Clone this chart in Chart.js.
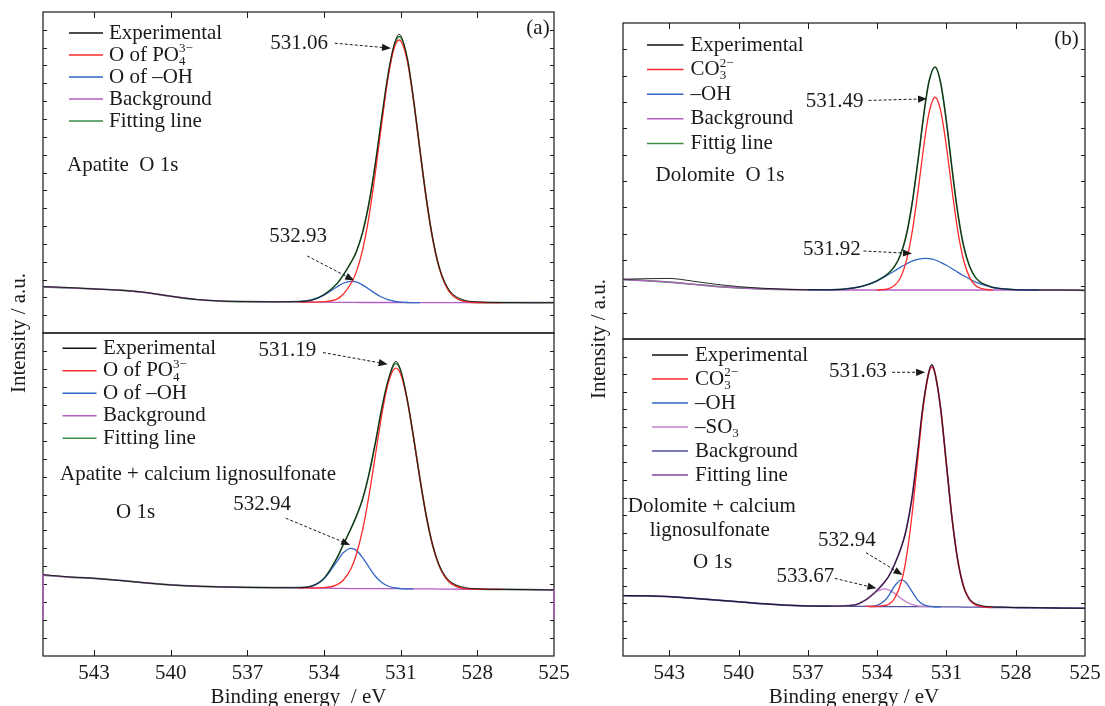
<!DOCTYPE html>
<html>
<head>
<meta charset="utf-8">
<title>O 1s XPS spectra</title>
<script src="https://cdn.jsdelivr.net/npm/chart.js@4.4.1/dist/chart.umd.min.js"></script>
<style>
  html, body { margin: 0; padding: 0; background: #fff; }
  #page { position: relative; width: 1105px; height: 706px; overflow: hidden; }
  #page canvas { position: absolute; left: 0; top: 0; }
</style>
</head>
<body>
<div id="page">
  <canvas id="apatite" width="1105" height="706"></canvas>
  <canvas id="apatiteCls" width="1105" height="706"></canvas>
  <canvas id="dolomite" width="1105" height="706"></canvas>
  <canvas id="dolomiteCls" width="1105" height="706"></canvas>
</div>
<script>
// binding energy ticks, shared by all four subplots
const xTicks = [543, 540, 537, 534, 531, 528, 525];

// ---- apatite, O 1s ----
const apE = [545, 544, 543, 542, 541, 540, 539, 538, 537, 536, 535, 534.5, 534, 533.5, 533.25, 532.93, 532.75, 532.5, 532.25, 532,
  531.75, 531.5, 531.25, 531.06, 530.75, 530.5, 530.25, 530, 529.75, 529.5, 529.25, 529, 528.5, 528, 527, 526, 525];
const apExp = [2.60, 2.55, 2.47, 2.40, 2.28, 2.06, 1.88, 1.79, 1.76, 1.75, 1.76, 1.84, 2.15, 2.76, 3.24, 4.00, 4.51, 5.60, 7.22, 9.42,
  11.98, 14.43, 16.20, 16.75, 15.45, 13.10, 10.30, 7.56, 5.31, 3.72, 2.78, 2.24, 1.84, 1.75, 1.71, 1.70, 1.70];
const apPO4 = [null, null, null, null, null, null, null, null, null, null, 1.74, 1.73, 1.76, 1.90, 2.17, 2.82, 3.37, 4.61, 6.46, 8.91,
  11.67, 14.27, 16.00, 16.43, 15.31, 13.08, 10.29, 7.55, 5.30, 3.69, 2.70, 2.15, 1.77, 1.71, 1.70, null, null];
const apOH = [null, null, null, null, null, null, null, null, null, null, 1.76, 1.84, 2.12, 2.58, 2.79, 2.90, 2.86, 2.70, 2.47, 2.22,
  2.02, 1.87, 1.78, 1.74, 1.71, 1.70, 1.70, null, null, null, null, null, null, null, null, null, null];
const apBg = [2.59, 2.53, 2.47, 2.40, 2.27, 2.06, 1.88, 1.79, 1.76, 1.75, 1.74, 1.73, 1.73, 1.72, 1.72, 1.72, 1.72, 1.71, 1.71, 1.71,
  1.71, 1.71, 1.70, 1.70, 1.70, 1.70, 1.70, 1.70, 1.70, 1.70, 1.70, 1.70, 1.70, 1.70, 1.70, 1.70, 1.70];
const apFit = [2.59, 2.53, 2.47, 2.40, 2.27, 2.06, 1.88, 1.79, 1.76, 1.75, 1.76, 1.84, 2.15, 2.76, 3.24, 4.00, 4.51, 5.60, 7.22, 9.42,
  11.98, 14.43, 16.15, 16.62, 15.45, 13.10, 10.30, 7.56, 5.31, 3.70, 2.71, 2.16, 1.77, 1.71, 1.70, 1.70, 1.70];

// ---- apatite + calcium lignosulfonate, O 1s ----
const aplE = [545, 544, 543, 542, 541, 540, 539, 538, 537, 536, 535, 534.5, 534, 533.5, 533.25, 532.94, 532.75, 532.5, 532.25, 532,
  531.75, 531.5, 531.19, 531, 530.75, 530.5, 530.25, 530, 529.75, 529.5, 529.25, 529, 528.5, 528, 527, 526, 525];
const aplExp = [4.53, 4.41, 4.33, 4.21, 4.08, 3.96, 3.89, 3.85, 3.82, 3.81, 3.81, 3.89, 4.33, 5.45, 6.20, 7.12, 7.74, 8.71, 10.08, 11.82,
  13.73, 15.30, 16.42, 15.90, 14.33, 12.21, 9.90, 7.81, 6.19, 5.09, 4.45, 4.09, 3.82, 3.74, 3.71, 3.70, 3.68];
const aplPO4 = [null, null, null, null, null, null, null, null, null, null, 3.80, 3.80, 3.81, 3.96, 4.22, 4.88, 5.60, 6.97, 8.87, 11.11,
  13.37, 15.15, 16.04, 15.70, 14.31, 12.21, 9.90, 7.81, 6.17, 5.05, 4.38, 4.02, 3.76, 3.72, 3.71, null, null];
const aplOH = [null, null, null, null, null, null, null, null, null, null, 3.81, 3.88, 4.30, 5.26, 5.75, 6.00, 5.90, 5.50, 4.97, 4.46,
  4.11, 3.90, 3.79, 3.76, 3.74, 3.74, null, null, null, null, null, null, null, null, null, null, null];
const aplBg = [4.51, 4.40, 4.33, 4.21, 4.08, 3.96, 3.89, 3.85, 3.82, 3.81, 3.80, 3.79, 3.78, 3.77, 3.77, 3.76, 3.76, 3.76, 3.76, 3.75,
  3.75, 3.75, 3.75, 3.75, 3.74, 3.74, 3.74, 3.74, 3.74, 3.73, 3.73, 3.73, 3.72, 3.72, 3.71, 3.70, 3.68];
const aplBgDrop = [2.0, 2.0]; // background end points at 545 and 525 eV
const aplFit = [4.51, 4.40, 4.33, 4.21, 4.08, 3.96, 3.89, 3.85, 3.82, 3.81, 3.81, 3.89, 4.33, 5.45, 6.20, 7.12, 7.74, 8.71, 10.08, 11.82,
  13.73, 15.30, 16.31, 15.90, 14.33, 12.21, 9.90, 7.81, 6.17, 5.05, 4.38, 4.02, 3.76, 3.72, 3.71, 3.70, 3.68];

// ---- dolomite, O 1s ----
const doE = [545, 544, 543, 542, 541, 540, 539, 538, 537, 536, 535, 534.5, 534, 533.5, 533.25, 533, 532.75, 532.5, 532.25, 531.92,
  531.75, 531.49, 531.25, 531, 530.75, 530.5, 530.25, 530, 529.75, 529.5, 529.25, 529, 528.5, 528, 527, 526, 525];
const doExp = [2.27, 2.29, 2.30, 2.20, 2.08, 1.99, 1.93, 1.89, 1.87, 1.87, 1.94, 2.04, 2.21, 2.50, 2.75, 3.17, 3.89, 5.06, 6.64, 8.90,
  9.79, 10.34, 9.73, 8.26, 6.42, 4.74, 3.52, 2.77, 2.35, 2.14, 2.04, 1.96, 1.90, 1.87, 1.86, 1.86, 1.85];
const doCO3 = [null, null, null, null, null, null, null, null, null, null, null, null, 1.86, 1.91, 2.03, 2.31, 2.91, 3.97, 5.48, 7.70,
  8.60, 9.18, 8.68, 7.32, 5.61, 4.07, 2.98, 2.35, 2.04, 1.92, 1.88, 1.86, null, null, null, null, null];
const doOH = [null, null, null, null, null, null, null, null, 1.87, 1.87, 1.94, 2.04, 2.21, 2.45, 2.58, 2.72, 2.84, 2.95, 3.02, 3.06,
  3.05, 3.00, 2.91, 2.80, 2.67, 2.53, 2.40, 2.28, 2.17, 2.08, 2.02, 1.96, 1.90, 1.87, 1.86, null, null];
const doBg = [2.26, 2.22, 2.16, 2.08, 2.00, 1.94, 1.90, 1.88, 1.87, 1.86, 1.86, 1.86, 1.86, 1.86, 1.86, 1.86, 1.86, 1.86, 1.86, 1.86,
  1.86, 1.86, 1.86, 1.86, 1.86, 1.86, 1.86, 1.86, 1.86, 1.86, 1.86, 1.86, 1.86, 1.86, 1.86, 1.86, 1.85];
const doFit = [2.26, 2.22, 2.16, 2.08, 2.00, 1.94, 1.90, 1.88, 1.87, 1.87, 1.94, 2.04, 2.21, 2.50, 2.75, 3.17, 3.89, 5.06, 6.64, 8.90,
  9.79, 10.32, 9.73, 8.26, 6.42, 4.74, 3.52, 2.77, 2.35, 2.14, 2.04, 1.96, 1.90, 1.87, 1.86, 1.86, 1.85];

// ---- dolomite + calcium lignosulfonate, O 1s ----
const dolE = [545, 544, 543, 542, 541, 540, 539, 538, 537, 536, 535, 534.5, 534.25, 534, 533.67, 533.5, 533.25, 532.94, 532.75, 532.5,
  532.25, 532, 531.75, 531.63, 531.5, 531.25, 531, 530.75, 530.5, 530.25, 530, 529.75, 529.5, 529.25, 529, 528.5, 528, 527, 526, 525];
const dolExp = [3.44, 3.42, 3.37, 3.28, 3.18, 3.08, 2.97, 2.89, 2.84, 2.83, 2.89, 3.18, 3.43, 3.73, 4.21, 4.52, 5.18, 6.23, 7.11, 8.89,
  11.48, 14.31, 16.17, 16.56, 16.09, 14.06, 10.90, 7.75, 5.37, 3.92, 3.23, 2.98, 2.87, 2.81, 2.79, 2.77, 2.75, 2.74, 2.72, 2.71];
const dolCO3 = [null, null, null, null, null, null, null, null, null, null, null, 2.82, 2.81, 2.82, 2.87, 2.94, 3.25, 4.26, 5.46, 7.88,
  11.04, 14.17, 16.14, 16.39, 16.09, 14.06, 10.90, 7.75, 5.37, 3.92, 3.21, 2.92, 2.82, 2.77, 2.76, null, null, null, null, null];
const dolOH = [null, null, null, null, null, null, null, null, null, null, null, 2.82, 2.82, 2.87, 3.15, 3.42, 3.96, 4.32, 4.17, 3.68,
  3.19, 2.92, 2.83, 2.81, 2.79, 2.79, null, null, null, null, null, null, null, null, null, null, null, null, null, null];
const dolSO3 = [null, null, null, null, null, null, null, null, null, 2.83, 2.89, 3.18, 3.42, 3.66, 3.81, 3.76, 3.57, 3.25, 3.08, 2.93,
  2.85, 2.82, 2.80, 2.80, null, null, null, null, null, null, null, null, null, null, null, null, null, null, null, null];
const dolBg = [3.42, 3.41, 3.37, 3.28, 3.18, 3.08, 2.97, 2.89, 2.84, 2.83, 2.82, 2.82, 2.81, 2.81, 2.81, 2.80, 2.80, 2.80, 2.80, 2.80,
  2.80, 2.80, 2.80, 2.80, 2.79, 2.79, 2.79, 2.79, 2.79, 2.78, 2.78, 2.78, 2.78, 2.76, 2.76, 2.76, 2.75, 2.74, 2.72, 2.71];
const dolFit = [3.42, 3.41, 3.37, 3.28, 3.18, 3.08, 2.97, 2.89, 2.84, 2.83, 2.89, 3.18, 3.43, 3.73, 4.21, 4.52, 5.18, 6.23, 7.11, 8.89,
  11.48, 14.31, 16.17, 16.50, 16.09, 14.06, 10.90, 7.75, 5.37, 3.92, 3.21, 2.92, 2.82, 2.77, 2.76, 2.76, 2.75, 2.74, 2.72, 2.71];

const FONT = '"Liberation Serif", "Times New Roman", serif';
const INK = '#1a1a1a';
const COLORS = {
  exp: '#111111',
  red: '#ff2a2a',
  blue: '#3166c2',
  bgA: '#b55cc6',
  green: '#3a8e45',
  so3: '#c27fcc',
  bgB: '#4f4fa3',
  fitB: '#8445a0'
};

// text made of plain strings and {sub, sup} pieces (stacked sub/superscripts)
function drawRich(ctx, runs, x, y, size, align) {
  const small = Math.round(size * 0.6);
  const widths = runs.map(r => {
    if (typeof r === 'string') { ctx.font = `${size}px ${FONT}`; return ctx.measureText(r).width; }
    ctx.font = `${small}px ${FONT}`;
    return Math.max(r.sub ? ctx.measureText(r.sub).width : 0, r.sup ? ctx.measureText(r.sup).width : 0);
  });
  let cx = align === 'right' ? x - widths.reduce((s, w) => s + w, 0) : x;
  ctx.textBaseline = 'middle';
  ctx.textAlign = 'left';
  runs.forEach((r, i) => {
    if (typeof r === 'string') {
      ctx.font = `${size}px ${FONT}`;
      ctx.fillText(r, cx, y);
    } else {
      ctx.font = `${small}px ${FONT}`;
      if (r.sub) ctx.fillText(r.sub, cx, y + size * 0.3);
      if (r.sup) ctx.fillText(r.sup, cx, y - size * 0.3);
    }
    cx += widths[i];
  });
}

function dashedArrow(ctx, x0, y0, x1, y1) {
  const ang = Math.atan2(y1 - y0, x1 - x0);
  const head = 9, half = 3.6;
  const bx = x1 - head * Math.cos(ang), by = y1 - head * Math.sin(ang);
  ctx.strokeStyle = INK;
  ctx.fillStyle = INK;
  ctx.lineWidth = 1;
  ctx.setLineDash([3, 2]);
  ctx.beginPath();
  ctx.moveTo(x0, y0);
  ctx.lineTo(bx, by);
  ctx.stroke();
  ctx.setLineDash([]);
  ctx.beginPath();
  ctx.moveTo(x1, y1);
  ctx.lineTo(bx + half * Math.sin(ang), by - half * Math.cos(ang));
  ctx.lineTo(bx - half * Math.sin(ang), by + half * Math.cos(ang));
  ctx.closePath();
  ctx.fill();
}

// frame, inward ticks, legend, labels and axis titles for one subplot
const subplotDecor = {
  id: 'subplotDecor',
  beforeDatasetsDraw(chart, args, o) {
    const { ctx, chartArea: a, scales: { x, y } } = chart;
    ctx.save();
    ctx.strokeStyle = INK;
    ctx.lineWidth = 1.2;
    ctx.strokeRect(a.left, a.top, a.right - a.left, a.bottom - a.top);
    ctx.lineWidth = 1;
    ctx.beginPath();
    y.ticks.forEach(t => {
      if (t.value <= y.min || t.value >= y.max) return;
      const py = Math.round(y.getPixelForValue(t.value)) + 0.5;
      ctx.moveTo(a.left, py); ctx.lineTo(a.left + 4, py);
      ctx.moveTo(a.right, py); ctx.lineTo(a.right - 4, py);
    });
    xTicks.forEach(v => {
      const px = Math.round(x.getPixelForValue(v)) + 0.5;
      if (px <= a.left + 1 || px >= a.right - 1) return;
      if (o.xAxis) { ctx.moveTo(px, a.bottom); ctx.lineTo(px, a.bottom - 6); }
      else { ctx.moveTo(px, a.top); ctx.lineTo(px, a.top + 6); }
    });
    ctx.stroke();
    ctx.restore();
  },
  afterDatasetsDraw(chart, args, o) {
    const { ctx, chartArea: a, scales: { x, y } } = chart;
    ctx.save();
    ctx.fillStyle = INK;

    const lg = o.legend;
    lg.items.forEach((it, i) => {
      const ry = lg.y + i * lg.dy;
      ctx.strokeStyle = it.color;
      ctx.lineWidth = 1.5;
      ctx.beginPath();
      ctx.moveTo(lg.x, ry);
      ctx.lineTo(lg.x + lg.len, ry);
      ctx.stroke();
      ctx.fillStyle = INK;
      drawRich(ctx, it.runs, lg.x + lg.len + lg.gap, ry, 21);
    });

    (o.notes || []).forEach(n => drawRich(ctx, [n.text], n.x, n.y, 21));
    if (o.tag) {
      ctx.font = `21px ${FONT}`;
      ctx.textAlign = 'center';
      ctx.fillText(o.tag.text, o.tag.x, o.tag.y);
    }

    (o.peaks || []).forEach(p => {
      ctx.fillStyle = INK;
      drawRich(ctx, [p.text], x.getPixelForValue(p.anchor[0]), y.getPixelForValue(p.anchor[1]), 21, 'right');
      dashedArrow(ctx, x.getPixelForValue(p.from[0]), y.getPixelForValue(p.from[1]),
        x.getPixelForValue(p.to[0]), y.getPixelForValue(p.to[1]));
    });

    if (o.xAxis) {
      ctx.fillStyle = INK;
      ctx.font = `21px ${FONT}`;
      ctx.textAlign = 'center';
      ctx.textBaseline = 'middle';
      xTicks.forEach(v => ctx.fillText(String(v), x.getPixelForValue(v), a.bottom + 17));
      ctx.fillText(o.xAxis.title, (a.left + a.right) / 2, a.bottom + 41);
      ctx.save();
      ctx.translate(o.xAxis.yTitleX, a.top);
      ctx.rotate(-Math.PI / 2);
      ctx.fillText('Intensity / a.u.', 0, 0);
      ctx.restore();
    }
    ctx.restore();
  }
};

function subplot(canvasId, cfg) {
  const datasets = cfg.series.map(s => ({
    label: s.name,
    data: (s.energy || cfg.energy).map((e, i) => ({ x: e, y: s.values[i] })),
    borderColor: s.color,
    borderWidth: s.width || 1.3,
    pointRadius: 0,
    fill: false,
    spanGaps: false,
    tension: 0,
    cubicInterpolationMode: s.straight ? 'default' : 'monotone',
    clip: 3
  }));
  return new Chart(document.getElementById(canvasId), {
    type: 'line',
    data: { datasets },
    options: {
      responsive: false,
      animation: false,
      events: [],
      layout: { padding: cfg.padding },
      plugins: {
        legend: { display: false },
        tooltip: { enabled: false },
        subplotDecor: cfg.decor
      },
      scales: {
        x: { type: 'linear', reverse: true, min: 525, max: 545, display: false },
        y: { type: 'linear', min: 0, max: cfg.yMax, display: false, ticks: { stepSize: 1 } }
      }
    },
    plugins: [subplotDecor]
  });
}

const PO4 = ['O of PO', { sub: '4', sup: '3\u2212' }];
const CO3 = ['CO', { sub: '3', sup: '2\u2212' }];

subplot('apatite', {
  energy: apE,
  yMax: 18,
  padding: { left: 43, top: 12, right: 551, bottom: 373 },
  series: [
    { name: 'Experimental', values: apExp, color: COLORS.exp, width: 0.9 },
    { name: 'O of PO4', values: apPO4, color: COLORS.red },
    { name: 'O of -OH', values: apOH, color: COLORS.blue },
    { name: 'Background', values: apBg, color: COLORS.bgA, straight: true },
    { name: 'Fitting line', values: apFit, color: COLORS.green, width: 1.7 }
  ],
  decor: {
    legend: {
      x: 69, y: 33, dy: 22, len: 34, gap: 6,
      items: [
        { runs: ['Experimental'], color: COLORS.exp },
        { runs: PO4, color: COLORS.red },
        { runs: ['O of \u2013OH'], color: COLORS.blue },
        { runs: ['Background'], color: COLORS.bgA },
        { runs: ['Fitting line'], color: COLORS.green }
      ]
    },
    notes: [{ text: 'Apatite  O 1s', x: 67, y: 165 }],
    tag: { text: '(a)', x: 538, y: 28 },
    peaks: [
      { text: '531.06', anchor: [533.85, 16.25], from: [533.58, 16.25], to: [531.38, 15.97] },
      { text: '532.93', anchor: [533.88, 5.40], from: [534.66, 4.32], to: [532.82, 2.95] }
    ]
  }
});

subplot('apatiteCls', {
  energy: aplE,
  yMax: 18,
  padding: { left: 43, top: 333, right: 551, bottom: 50 },
  series: [
    { name: 'Experimental', values: aplExp, color: COLORS.exp, width: 0.9 },
    { name: 'O of PO4', values: aplPO4, color: COLORS.red },
    { name: 'O of -OH', values: aplOH, color: COLORS.blue },
    {
      name: 'Background', color: COLORS.bgA, straight: true,
      energy: [aplE[0], ...aplE, aplE[aplE.length - 1]],
      values: [aplBgDrop[0], ...aplBg, aplBgDrop[1]]
    },
    { name: 'Fitting line', values: aplFit, color: COLORS.green, width: 1.7 }
  ],
  decor: {
    legend: {
      x: 62.5, y: 348.3, dy: 22.5, len: 34, gap: 6.5,
      items: [
        { runs: ['Experimental'], color: COLORS.exp },
        { runs: PO4, color: COLORS.red },
        { runs: ['O of \u2013OH'], color: COLORS.blue },
        { runs: ['Background'], color: COLORS.bgA },
        { runs: ['Fitting line'], color: COLORS.green }
      ]
    },
    notes: [
      { text: 'Apatite + calcium lignosulfonate', x: 60, y: 474 },
      { text: 'O 1s', x: 116, y: 512 }
    ],
    peaks: [
      { text: '531.19', anchor: [534.31, 17.02], from: [534.04, 16.91], to: [531.51, 16.26] },
      { text: '532.94', anchor: [535.29, 8.42], from: [535.50, 7.68], to: [532.98, 6.19] }
    ],
    xAxis: { title: 'Binding energy  / eV', yTitleX: 19 }
  }
});

subplot('dolomite', {
  energy: doE,
  yMax: 12,
  padding: { left: 623, top: 23, right: 20, bottom: 367 },
  series: [
    { name: 'Experimental', values: doExp, color: COLORS.exp, width: 0.9 },
    { name: 'CO3', values: doCO3, color: COLORS.red },
    { name: '-OH', values: doOH, color: COLORS.blue },
    { name: 'Background', values: doBg, color: COLORS.bgA, straight: true },
    { name: 'Fittig line', values: doFit, color: COLORS.green, width: 1.7 }
  ],
  decor: {
    legend: {
      x: 647, y: 45, dy: 24.6, len: 36.5, gap: 7,
      items: [
        { runs: ['Experimental'], color: COLORS.exp },
        { runs: CO3, color: COLORS.red },
        { runs: ['\u2013OH'], color: COLORS.blue },
        { runs: ['Background'], color: COLORS.bgA },
        { runs: ['Fittig line'], color: COLORS.green }
      ]
    },
    notes: [{ text: 'Dolomite  O 1s', x: 655.6, y: 175 }],
    tag: { text: '(b)', x: 1066.6, y: 39.3 },
    peaks: [
      { text: '531.49', anchor: [534.59, 9.03], from: [534.37, 9.06], to: [531.84, 9.12] },
      { text: '531.92', anchor: [534.71, 3.41], from: [534.59, 3.34], to: [532.49, 3.25] }
    ]
  }
});

subplot('dolomiteCls', {
  energy: dolE,
  yMax: 18,
  padding: { left: 623, top: 339, right: 20, bottom: 50 },
  series: [
    { name: 'Experimental', values: dolExp, color: COLORS.exp, width: 0.9 },
    { name: 'CO3', values: dolCO3, color: COLORS.red },
    { name: '-OH', values: dolOH, color: COLORS.blue },
    { name: '-SO3', values: dolSO3, color: COLORS.so3 },
    { name: 'Background', values: dolBg, color: COLORS.bgB, straight: true },
    { name: 'Fitting line', values: dolFit, color: COLORS.fitB, width: 1.7 }
  ],
  decor: {
    legend: {
      x: 652, y: 355, dy: 24, len: 36, gap: 7,
      items: [
        { runs: ['Experimental'], color: COLORS.exp },
        { runs: CO3, color: COLORS.red },
        { runs: ['\u2013OH'], color: COLORS.blue },
        { runs: ['\u2013SO', { sub: '3' }], color: COLORS.so3 },
        { runs: ['Background'], color: COLORS.bgB },
        { runs: ['Fitting line'], color: COLORS.fitB }
      ]
    },
    notes: [
      { text: 'Dolomite + calcium', x: 627.8, y: 506.7 },
      { text: 'lignosulfonate', x: 649.7, y: 530 },
      { text: 'O 1s', x: 693, y: 562.3 }
    ],
    peaks: [
      { text: '531.63', anchor: [533.58, 16.13], from: [533.35, 16.11], to: [531.92, 16.11] },
      { text: '532.94', anchor: [534.06, 6.55], from: [534.48, 5.87], to: [532.90, 4.60] },
      { text: '533.67', anchor: [535.86, 4.50], from: [535.83, 4.41], to: [534.03, 3.84] }
    ],
    xAxis: { title: 'Binding energy / eV', yTitleX: 599 }
  }
});
</script>
</body>
</html>
